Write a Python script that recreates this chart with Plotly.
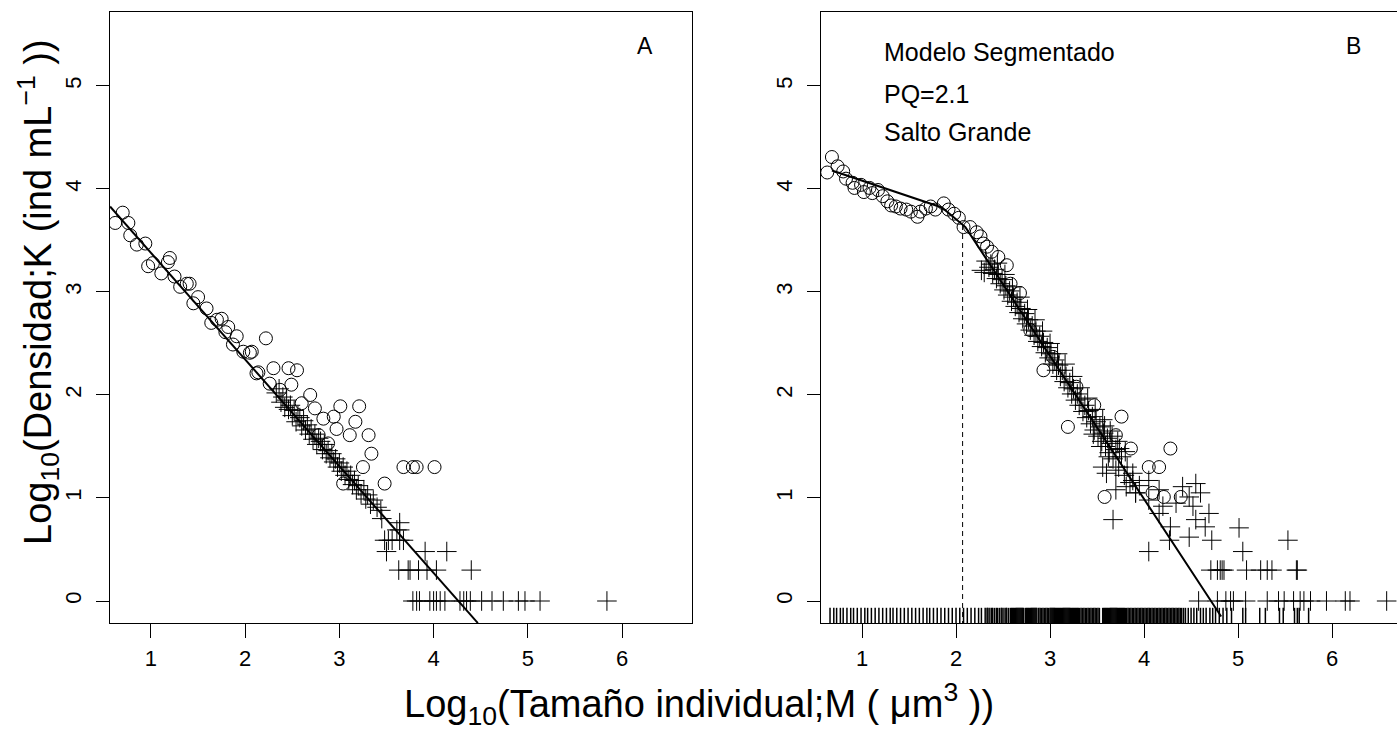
import plotly.graph_objects as go

# ---------------- Panel A data ----------------
a_circ_x = [0.62, 0.70, 0.76, 0.78, 0.85, 0.94, 0.97, 1.02, 1.11, 1.18, 1.20, 1.25, 1.31, 1.38, 1.41,
            1.45, 1.50, 1.59, 1.64, 1.70, 1.75, 1.79, 1.82, 1.87, 1.91, 1.98, 2.05, 2.07, 2.12, 2.14,
            2.22, 2.26, 2.30, 2.37, 2.46, 2.49, 2.55, 2.60, 2.69, 2.74, 2.78, 2.83, 2.88, 2.94, 2.97,
            3.01, 3.04, 3.11, 3.17, 3.21, 3.25, 3.31, 3.34, 3.48, 3.68, 3.78, 3.82, 4.01]
a_circ_y = [3.67, 3.77, 3.67, 3.55, 3.46, 3.47, 3.25, 3.28, 3.18, 3.29, 3.33, 3.15, 3.05, 3.08, 3.08,
            2.89, 2.95, 2.84, 2.70, 2.73, 2.74, 2.61, 2.66, 2.49, 2.57, 2.42, 2.41, 2.42, 2.21, 2.22,
            2.55, 2.11, 2.26, 2.05, 2.26, 2.10, 2.24, 1.92, 2.00, 1.87, 1.61, 1.77, 1.53, 1.79, 1.67,
            1.89, 1.14, 1.61, 1.74, 1.89, 1.30, 1.61, 1.43, 1.14, 1.30, 1.30, 1.30, 1.30]

a_plus_x = [2.33, 2.36, 2.38, 2.40, 2.42, 2.44, 2.46, 2.48, 2.50, 2.52, 2.54, 2.56, 2.58, 2.60, 2.62,
            2.64, 2.66, 2.68, 2.70, 2.72, 2.74, 2.76, 2.78, 2.80, 2.82, 2.84, 2.86, 2.88, 2.90, 2.92,
            2.94, 2.96, 2.98, 3.00, 3.02, 3.04, 3.06, 3.08, 3.10, 3.12, 3.14, 3.16, 3.18, 3.20, 3.23,
            3.26, 3.28, 3.30, 3.33, 3.36, 3.40, 3.44, 3.45, 3.64,
            3.61, 3.64, 3.48, 3.52, 3.56, 3.64, 3.68, 3.50, 3.91, 4.14,
            3.63, 3.73, 3.75, 3.84, 3.93, 4.03, 4.40,
            3.78, 3.82, 3.85, 3.96, 4.00, 4.03, 4.07, 4.12, 4.28, 4.32, 4.35, 4.39, 4.51, 4.62, 4.74,
            4.90, 4.97, 5.13, 5.84]
a_plus_y = [2.02, 2.06, 1.93, 1.98, 1.88, 1.95, 1.86, 1.90, 1.80, 1.85, 1.74, 1.80, 1.78, 1.70, 1.75,
            1.66, 1.71, 1.62, 1.67, 1.57, 1.62, 1.52, 1.58, 1.55, 1.47, 1.52, 1.43, 1.46, 1.39, 1.43,
            1.35, 1.38, 1.30, 1.34, 1.26, 1.30, 1.22, 1.26, 1.18, 1.22, 1.13, 1.17, 1.08, 1.12, 1.04,
            1.08, 0.99, 1.03, 0.94, 0.98, 0.91, 0.88, 0.80, 0.76,
            0.69, 0.69, 0.59, 0.59, 0.59, 0.59, 0.59, 0.48, 0.48, 0.48,
            0.30, 0.30, 0.30, 0.30, 0.30, 0.30, 0.30,
            0.00, 0.00, 0.00, 0.00, 0.00, 0.00, 0.00, 0.00, 0.00, 0.00, 0.00, 0.00, 0.00, 0.00, 0.00,
            0.00, 0.00, 0.00, 0.00]

a_fit_x = [0.565, 4.47]
a_fit_y = [3.83, -0.214]

# ---------------- Panel B data ----------------
b_circ_x = [0.63, 0.68, 0.74, 0.80, 0.83, 0.90, 0.92, 0.99, 1.02, 1.08, 1.11, 1.17, 1.22, 1.27, 1.31,
            1.36, 1.41, 1.47, 1.52, 1.59, 1.62, 1.68, 1.73, 1.78, 1.87, 1.92, 1.98, 2.03, 2.08, 2.15,
            2.22, 2.26, 2.29, 2.33, 2.38, 2.45, 2.54, 2.58, 2.68, 2.79, 2.93, 3.03, 3.19, 3.28, 3.47,
            3.58, 3.70, 3.76, 3.86, 4.05, 4.09, 4.16, 4.21, 4.28, 4.39]
b_circ_y = [4.16, 4.31, 4.22, 4.17, 4.10, 4.06, 4.01, 4.04, 3.97, 4.01, 3.96, 3.99, 3.93, 3.88, 3.84,
            3.83, 3.81, 3.80, 3.78, 3.73, 3.78, 3.81, 3.83, 3.80, 3.86, 3.80, 3.76, 3.72, 3.63, 3.63,
            3.58, 3.54, 3.47, 3.44, 3.39, 3.34, 3.26, 3.08, 2.99, 2.63, 2.24, 2.37, 1.69, 2.08, 1.90,
            1.01, 1.61, 1.79, 1.48, 1.30, 1.05, 1.30, 1.01, 1.48, 1.01]

b_plus_x = [2.27, 2.30, 2.32, 2.35, 2.37, 2.39, 2.41, 2.43, 2.45, 2.47, 2.49, 2.51, 2.53, 2.55, 2.57,
            2.59, 2.61, 2.63, 2.65, 2.67, 2.69, 2.71, 2.73, 2.75, 2.77, 2.79, 2.81, 2.83, 2.85, 2.87,
            2.89, 2.91, 2.93, 2.95, 2.97, 2.99, 3.01, 3.03, 3.05, 3.07, 3.09, 3.11, 3.13, 3.15, 3.17,
            3.19, 3.21, 3.23, 3.25, 3.27, 3.29, 3.31, 3.33, 3.35, 3.37, 3.39, 3.41, 3.43, 3.45, 3.47,
            3.49, 3.51, 3.53, 3.55, 3.57, 3.59, 3.61, 3.63, 3.65, 3.67, 3.70, 3.73, 3.76, 3.79, 3.82,
            3.85, 3.88, 3.91, 3.95,
            2.44, 2.52, 2.60, 2.68, 2.76, 2.84, 2.92, 3.00, 3.08, 3.16, 3.24, 3.32, 3.40, 3.48, 3.56,
            3.64, 3.72, 3.80, 3.46, 3.54, 3.62, 3.58, 3.66, 3.74,
            4.05, 4.16, 4.41, 4.55, 4.60, 4.48, 4.34, 4.52, 4.69, 4.65, 4.55, 4.28, 4.48, 4.27, 4.72,
            3.67, 4.05, 5.01, 5.05, 5.53, 3.88, 3.81, 3.70, 3.91, 4.05, 4.16, 4.20, 3.56, 3.60, 3.70,
            4.71, 4.78, 4.81, 4.83, 4.85, 5.09, 5.24, 5.31, 5.36, 5.62, 5.63,
            4.58, 4.78, 4.87, 4.92, 4.95, 5.08, 5.31, 5.43, 5.49, 5.59, 5.66, 5.70, 5.77, 5.94, 6.14,
            6.19, 6.58]
b_plus_y = [3.21, 3.19, 3.30, 3.24, 3.27, 3.18, 3.22, 3.13, 3.17, 3.08, 3.12, 3.02, 3.06, 2.97, 3.01,
            2.91, 2.95, 2.86, 2.90, 2.80, 2.84, 2.74, 2.79, 2.69, 2.73, 2.63, 2.67, 2.58, 2.62, 2.52,
            2.57, 2.47, 2.51, 2.41, 2.46, 2.36, 2.40, 2.30, 2.34, 2.24, 2.29, 2.18, 2.24, 2.13, 2.18,
            2.07, 2.12, 2.01, 2.06, 1.95, 2.01, 1.90, 1.96, 1.84, 1.90, 1.78, 1.85, 1.72, 1.79, 1.66,
            1.74, 1.60, 1.69, 1.55, 1.63, 1.50, 1.58, 1.44, 1.53, 1.38, 1.47, 1.30, 1.40, 1.22, 1.30,
            1.15, 1.24, 1.05, 1.12,
            3.28, 3.17, 3.05, 2.95, 2.83, 2.73, 2.62, 2.50, 2.40, 2.30, 2.18, 2.07, 1.97, 1.86, 1.76,
            1.65, 1.55, 1.45, 1.62, 1.50, 1.40, 1.70, 1.60, 1.48,
            1.17, 1.08, 1.11, 1.14, 1.05, 1.01, 0.95, 0.92, 0.85, 0.72, 0.79, 0.72, 0.62, 0.59, 0.59,
            0.79, 0.48, 0.71, 0.48, 0.59, 1.17, 1.11, 1.08, 1.05, 0.98, 0.85, 0.92, 1.30, 1.24, 1.27,
            0.30, 0.30, 0.30, 0.30, 0.30, 0.30, 0.30, 0.30, 0.30, 0.30, 0.30,
            0.00, 0.00, 0.00, 0.00, 0.00, 0.00, 0.00, 0.00, 0.00, 0.00, 0.00, 0.00, 0.00, 0.00, 0.00,
            0.00, 0.00]

b_rug_x = [0.66, 0.70, 0.73, 0.77, 0.80, 0.84, 0.88, 0.91, 0.95, 0.99, 1.03, 1.06, 1.10, 1.14, 1.18,
           1.22, 1.26, 1.30, 1.33, 1.37, 1.41, 1.45, 1.49, 1.53, 1.57, 1.61, 1.65, 1.69, 1.72, 1.76,
           1.80, 1.84, 1.88, 1.92, 1.96, 2.00, 2.04, 2.08, 2.12, 2.16, 2.20, 2.24, 2.27,
           2.31, 2.33, 2.34, 2.36, 2.38, 2.39, 2.41, 2.43, 2.44, 2.46, 2.48, 2.49, 2.51, 2.53, 2.54,
           2.56, 2.58, 2.59,
           2.60, 2.61, 2.62, 2.63, 2.64, 2.65, 2.66, 2.67, 2.68, 2.69, 2.70, 2.71, 2.72,
           2.74, 2.75, 2.76, 2.77, 2.78, 2.79, 2.80, 2.81, 2.82, 2.83, 2.84, 2.85, 2.86,
           2.88, 2.895, 2.91, 2.925, 2.94, 2.955, 2.97, 2.985,
           3.00, 3.01, 3.02, 3.03, 3.04, 3.05, 3.06, 3.07, 3.08, 3.09, 3.10, 3.11, 3.12, 3.13, 3.14,
           3.15, 3.16, 3.17, 3.18, 3.19, 3.20, 3.21, 3.22, 3.23, 3.24, 3.25, 3.26, 3.27, 3.28, 3.29,
           3.30, 3.315, 3.33, 3.345, 3.36, 3.375, 3.39, 3.405, 3.42, 3.435, 3.45, 3.465, 3.48, 3.495,
           3.51, 3.525,
           3.56, 3.57, 3.58, 3.59, 3.60, 3.61, 3.62, 3.63, 3.64, 3.65, 3.66, 3.67, 3.68, 3.69, 3.70,
           3.71, 3.72, 3.73, 3.74, 3.75, 3.76, 3.77, 3.78, 3.79, 3.80,
           3.815, 3.83, 3.845, 3.86, 3.875, 3.89, 3.905, 3.92, 3.935, 3.95, 3.965, 3.98, 3.995,
           4.01, 4.025, 4.04, 4.055, 4.07, 4.085, 4.10, 4.115, 4.13, 4.145, 4.16, 4.175, 4.19,
           4.205, 4.22, 4.235, 4.25, 4.265, 4.28, 4.295, 4.31, 4.325, 4.34, 4.355, 4.37, 4.385,
           4.40, 4.42, 4.44, 4.47, 4.50, 4.53, 4.56, 4.60, 4.63, 4.66, 4.70, 4.73, 4.76, 4.80, 4.84,
           4.88, 4.93, 5.05, 5.08, 5.23, 5.29, 5.44, 5.48, 5.60, 5.63, 5.65, 5.75]
b_rug_y = [-0.141] * len(b_rug_x)

b_fit_x = [0.68, 1.85, 2.10, 4.82]
b_fit_y = [4.18, 3.82, 3.63, -0.15]

pq_x = [2.07, 2.07]
pq_y = [3.65, -0.30]

x_ticks = [1, 2, 3, 4, 5, 6]
y_ticks = [0, 1, 2, 3, 4, 5]

FONT = "Liberation Sans, Arial, sans-serif"
W, H = 1397, 732

circle_marker = dict(symbol="circle-open", size=13, color="black", line=dict(width=1, color="black"))
plus_marker = dict(symbol="cross-thin-open", size=14, color="black", line=dict(width=1, color="black"))

fig = go.Figure()

# Panel A
fig.add_trace(go.Scatter(x=a_circ_x, y=a_circ_y, mode="markers", marker=circle_marker,
                         xaxis="x", yaxis="y", showlegend=False))
fig.add_trace(go.Scatter(x=a_plus_x, y=a_plus_y, mode="markers", marker=plus_marker,
                         xaxis="x", yaxis="y", showlegend=False))
fig.add_trace(go.Scatter(x=a_fit_x, y=a_fit_y, mode="lines", line=dict(color="black", width=2),
                         xaxis="x", yaxis="y", showlegend=False))

# Panel B
fig.add_trace(go.Scatter(x=b_circ_x, y=b_circ_y, mode="markers", marker=circle_marker,
                         xaxis="x2", yaxis="y2", showlegend=False))
fig.add_trace(go.Scatter(x=b_plus_x, y=b_plus_y, mode="markers", marker=plus_marker,
                         xaxis="x2", yaxis="y2", showlegend=False))
fig.add_trace(go.Scatter(x=b_rug_x, y=b_rug_y, mode="markers",
                         marker=dict(symbol="line-ns-open", size=11, color="black",
                                     line=dict(width=1.5, color="black")),
                         xaxis="x2", yaxis="y2", showlegend=False))
fig.add_trace(go.Scatter(x=b_fit_x, y=b_fit_y, mode="lines", line=dict(color="black", width=2),
                         xaxis="x2", yaxis="y2", showlegend=False))
fig.add_trace(go.Scatter(x=pq_x, y=pq_y, mode="lines",
                         line=dict(color="black", width=1, dash="5px,4px"),
                         xaxis="x2", yaxis="y2", showlegend=False))

ybot, ytop = 1 - 623 / H, 1 - 12 / H
yr = [-0.2136, 5.718]

common_x = dict(tickmode="array", tickvals=x_ticks, ticks="outside", ticklen=14, tickwidth=1,
                tickcolor="black", showline=True, linecolor="black", linewidth=1, mirror=True,
                showgrid=False, zeroline=False, tickfont=dict(family=FONT, size=22, color="black"),
                ticklabelstandoff=2)
common_y = dict(tickmode="array", tickvals=y_ticks, ticks="outside", ticklen=13, tickwidth=1,
                tickcolor="black", showline=True, linecolor="black", linewidth=1,
                showgrid=False, zeroline=False, tickfont=dict(family=FONT, size=22, color="black"),
                tickangle=-90, range=yr, domain=[ybot, ytop], ticklabelstandoff=6)

fig.update_layout(
    width=W, height=H,
    margin=dict(l=0, r=0, t=0, b=0),
    paper_bgcolor="white", plot_bgcolor="white",
    font=dict(family=FONT, color="black"),
    xaxis=dict(common_x, domain=[110 / W, 692 / W], range=[0.565, 6.743], anchor="y"),
    yaxis=dict(common_y, mirror=True, anchor="x"),
    xaxis2=dict(common_x, domain=[821 / W, 1.0], range=[0.564, 6.69], anchor="y2"),
    yaxis2=dict(common_y, mirror=False, anchor="x2"),
    annotations=[
        dict(text="A", x=6.24, y=5.39, xref="x", yref="y", showarrow=False,
             xanchor="center", yanchor="middle", font=dict(size=23, family=FONT)),
        dict(text="B", x=6.23, y=5.39, xref="x2", yref="y2", showarrow=False,
             xanchor="center", yanchor="middle", font=dict(size=23, family=FONT)),
        dict(text="Modelo Segmentado", x=1.21, y=5.33, xref="x2", yref="y2", xanchor="left",
             yanchor="middle", showarrow=False, font=dict(size=25, family=FONT)),
        dict(text="PQ=2.1", x=1.21, y=4.92, xref="x2", yref="y2", xanchor="left",
             yanchor="middle", showarrow=False, font=dict(size=25, family=FONT)),
        dict(text="Salto Grande", x=1.21, y=4.55, xref="x2", yref="y2", xanchor="left",
             yanchor="middle", showarrow=False, font=dict(size=25, family=FONT)),
        dict(text="Log<sub>10</sub>(Tamaño individual;M ( μm<sup>3</sup> ))",
             x=699 / W, y=1 - 704 / H, xref="paper", yref="paper", showarrow=False,
             xanchor="center", yanchor="middle", font=dict(size=38, family=FONT)),
        dict(text="Log<sub>10</sub>(Densidad;K (ind mL<sup>−1</sup> ))",
             x=38 / W, y=1 - 292 / H, xref="paper", yref="paper", showarrow=False,
             xanchor="center", yanchor="middle",
             textangle=-90, font=dict(size=38, family=FONT)),
    ],
)

fig.write_html("out.html")
